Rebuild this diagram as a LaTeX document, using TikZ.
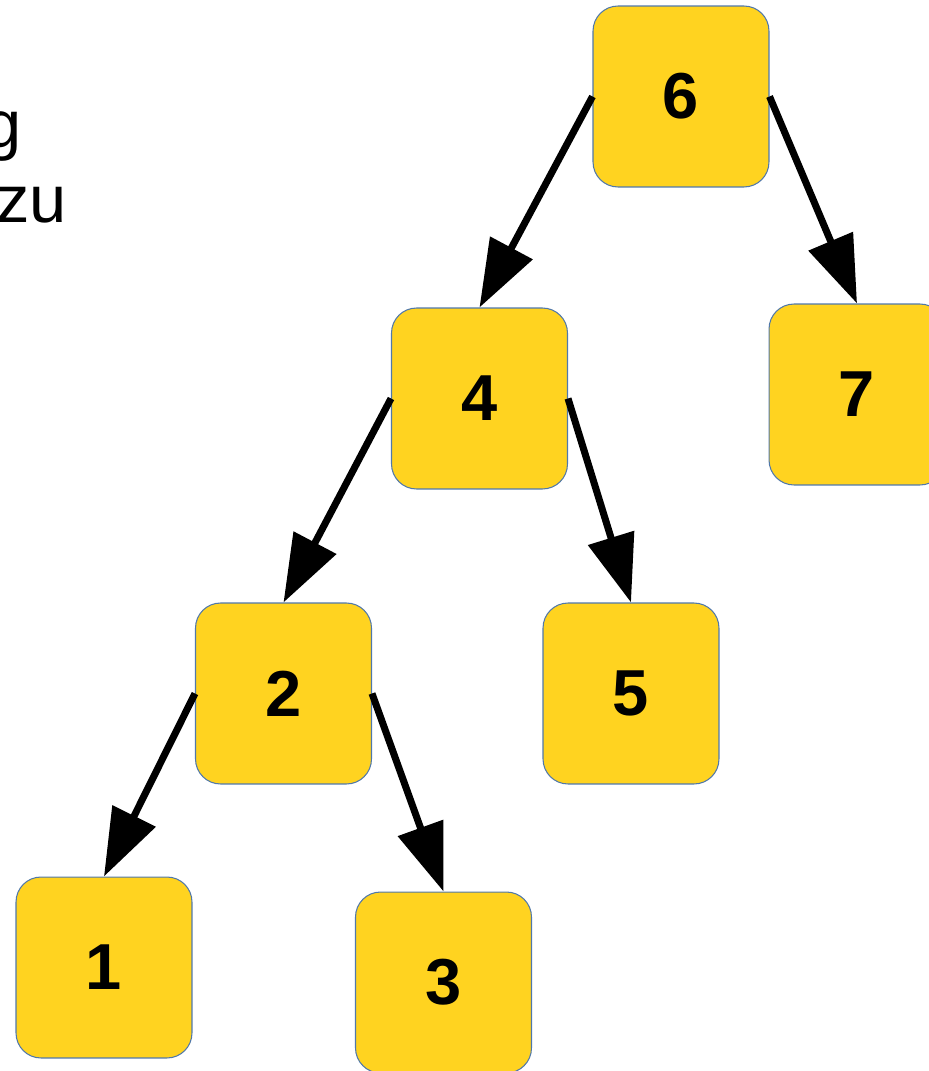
\documentclass[tikz,border=0pt]{standalone}
\usepackage{fontspec}
\setmainfont{Liberation Sans}
\usetikzlibrary{arrows.meta}
\tikzset{>={Triangle[length=38.5pt,width=26.6pt]}}
\definecolor{myyellow}{RGB}{255,211,32}
\definecolor{myborder}{RGB}{80,120,170}

\begin{document}
\begin{tikzpicture}[x=0.02cm,y=-0.02cm]
  
  % page size in pixels of the original
  \useasboundingbox (0,0) rectangle (929,1071);
  
  % styles
  \tikzset{
    keybox/.style={draw=myborder,line width=0.6pt,fill=myyellow,
      rounded corners=0.5cm,minimum width=3.52cm,minimum height=3.62cm,
      inner sep=0pt,font=\fontsize{37}{40}\selectfont\bfseries},
    edge/.style={->,line width=4pt}
  }
  
  % cut off text on the left
  \node[anchor=base east,font=\fontsize{38}{42}\selectfont,inner sep=0pt]
    (txtg) at (22,148) {g};
  \node[anchor=base east,font=\fontsize{38}{42}\selectfont,inner sep=0pt]
    (txtzu) at (67,222) {zu};
  
  % nodes
  \node[keybox] (k6) at (681,96.5) {6};
  \node[keybox] (k4) at (479.5,398.5) {4};
  \node[keybox] (k7) at (857,394.5) {7};
  \node[keybox] (k2) at (283.5,693.5) {2};
  \node[keybox] (k5) at (631,693.5) {5};
  \node[keybox] (k1) at (104,967.5) {1};
  \node[keybox] (k3) at (443.5,982.5) {3};
  
  % edges
  \draw[edge] (k6.west) -- (k4.north);
  \draw[edge] (k6.east) -- (k7.north);
  \draw[edge] (k4.west) -- (k2.north);
  \draw[edge] (k4.east) -- (k5.north);
  \draw[edge] (k2.west) -- (k1.north);
  \draw[edge] (k2.east) -- (k3.north);
  
\end{tikzpicture}
\end{document}
